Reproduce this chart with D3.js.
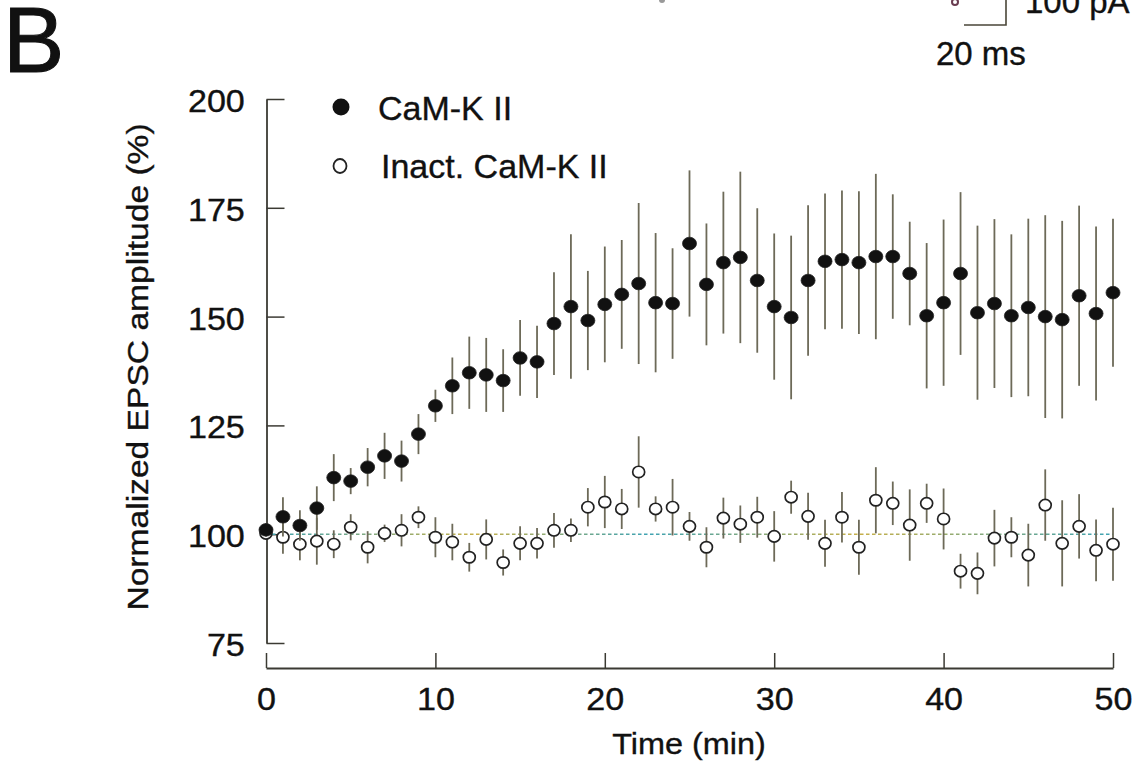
<!DOCTYPE html>
<html>
<head>
<meta charset="utf-8">
<script src="https://cdn.jsdelivr.net/npm/d3@7"></script>
<style>
  html, body { margin: 0; padding: 0; background: #fff; }
  svg { display: block; }
  text { font-family: "Liberation Sans", Arial, Helvetica, sans-serif; fill: #111; stroke: #111; stroke-width: 0.35px; }
</style>
</head>
<body>
<div id="chart"></div>
<script>
// Normalized EPSC amplitude over time, CaM-K II vs inactivated CaM-K II

const times = [0, 1, 2, 3, 4, 5, 6, 7, 8, 9, 10, 11, 12, 13, 14, 15, 16, 17, 18, 19, 20,
  21, 22, 23, 24, 25, 26, 27, 28, 29, 30, 31, 32, 33, 34, 35, 36, 37, 38, 39, 40,
  41, 42, 43, 44, 45, 46, 47, 48, 49, 50];

// CaM-K II (filled)
const camkMean = [101, 104, 102, 106, 113, 112.2, 115.4, 118, 116.8, 123, 129.5,
  134.1, 137.1, 136.6, 135.3, 140.5, 139.6, 148.4, 152.3, 149.1, 152.8,
  155.1, 157.6, 153.2, 153, 166.8, 157.4, 162.4, 163.6, 158.3, 152.3,
  149.8, 158.3, 162.7, 163.1, 162.4, 163.8, 163.8, 159.9, 150.2, 153.2,
  159.9, 150.9, 153, 150.2, 152.1, 150, 149.3, 154.8, 150.7, 155.5];
const camkErr = [1.5, 4.5, 3.5, 5, 5.4, 3, 4.4, 5.3, 4.7, 4.6, 3.7,
  6.5, 8.3, 8.5, 7.2, 8.7, 8.3, 11.8, 16.6, 11.4, 13.3,
  12.5, 18.5, 16, 12.7, 16.8, 14, 16.3, 19.7, 16.6, 16.8,
  18.8, 17.3, 15.6, 15.9, 16.4, 19, 14.3, 11.9, 16.7, 19.1,
  18.7, 20, 19.4, 18.7, 20.4, 23.3, 22.7, 20.7, 20, 17];

// Inact. CaM-K II (open)
const inactMean = [100.2, 99.3, 97.7, 98.4, 97.7, 101.6, 97, 100.2, 100.9, 103.9, 99.3,
  98.2, 94.7, 98.8, 93.5, 97.9, 97.9, 100.9, 100.9, 106.2, 107.4,
  105.8, 114.3, 105.8, 106.2, 101.8, 97, 103.7, 102.3, 103.9, 99.5,
  108.5, 104.1, 97.9, 103.9, 97, 107.8, 107.1, 102.1, 107.1, 103.5,
  91.5, 91, 99.1, 99.3, 95.2, 106.7, 97.9, 101.8, 96.3, 97.7];
const inactErr = [1, 3.8, 3.7, 5.4, 3.2, 3, 3.7, 2, 3.7, 2.5, 4.6,
  4.2, 3.3, 4.6, 3, 3.9, 3.5, 4, 2.7, 4.4, 6,
  4.6, 8.2, 2.9, 6.5, 3.3, 4.6, 4.7, 4.3, 4.7, 5.8,
  3.8, 5.4, 5.4, 5.8, 6.3, 7.6, 5, 8.2, 4.5, 7,
  4, 4.8, 6.5, 4.6, 7.2, 8.2, 9.9, 7.4, 7.1, 8.4];

const xTicks = [0, 10, 20, 30, 40, 50];
const yTicks = [75, 100, 125, 150, 175, 200];
const legendLabels = ["CaM-K II", "Inact. CaM-K II"];

const W = 1137, H = 773;
const TICK_FONT = 31, STRETCH = 1.1;

const svg = d3.select('#chart').append('svg')
  .attr('width', W).attr('height', H)
  .attr('viewBox', [0, 0, W, H]);

const x = d3.scaleLinear().domain([0, 50]).range([266, 1113]);
const y = d3.scaleLinear().domain([75, 200]).range([643, 99]);

// panel letter and leftover scale bar from panel above
svg.append('text').attr('x', 3).attr('y', 72)
  .attr('font-size', 92).style('stroke-width', '1px').text('B');

svg.append('path')
  .attr('d', 'M1006,0 V25 H964')
  .attr('fill', 'none').attr('stroke', '#4a4638').attr('stroke-width', 1.6);
svg.append('text').attr('x', 1025).attr('y', 13).attr('font-size', 33).text('100 pA');
svg.append('text').attr('x', 936).attr('y', 65).attr('font-size', 33).text('20 ms');
svg.append('ellipse').attr('cx', 955).attr('cy', 2).attr('rx', 3).attr('ry', 3)
  .attr('fill', 'none').attr('stroke', '#6a3c50').attr('stroke-width', 2);
svg.append('circle').attr('cx', 662).attr('cy', 0).attr('r', 3).attr('fill', '#999');

// y axis (ticks pointing inward)
const yAxis = svg.append('g')
  .attr('transform', 'translate(266.5,0)')
  .call(d3.axisLeft(y).tickValues(yTicks).tickSize(-18).tickSizeOuter(0).tickPadding(19.7));

// x axis, detached below the plot
const xAxis = svg.append('g')
  .attr('transform', 'translate(0,668)')
  .call(d3.axisBottom(x).tickValues(xTicks).tickSize(-15).tickSizeOuter(0).tickPadding(20));

[yAxis, xAxis].forEach(g => {
  g.attr('font-family', null).attr('font-size', null);
  g.select('.domain').attr('stroke', '#3b3a33').attr('stroke-width', 1.8);
  g.selectAll('.tick line').attr('stroke', '#3b3a33').attr('stroke-width', 1.5);
  g.selectAll('.tick text')
    .attr('font-size', TICK_FONT)
    .attr('fill', '#111')
    .attr('transform', `scale(${STRETCH},1)`);
});
yAxis.selectAll('.tick text').attr('dy', '0.4em');

// axis titles
svg.append('text')
  .attr('transform', 'translate(148,367) rotate(-90) scale(1.12,1)')
  .attr('text-anchor', 'middle').attr('font-size', 30)
  .text('Normalized EPSC amplitude (%)');

svg.append('text')
  .attr('transform', 'translate(689,754) scale(1.08,1)')
  .attr('text-anchor', 'middle').attr('font-size', 30)
  .text('Time (min)');

// dashed baseline at 100 %
const defs = svg.append('defs');
const grad = defs.append('linearGradient').attr('id', 'dashGrad')
  .attr('gradientUnits', 'userSpaceOnUse')
  .attr('x1', x(0)).attr('x2', x(50)).attr('y1', 0).attr('y2', 0);
[[0, '#3fa3b3'], [0.25, '#c7b04a'], [0.45, '#3fa3b3'], [0.7, '#c7b04a'], [1, '#3fa3b3']]
  .forEach(([o, c]) => grad.append('stop').attr('offset', o).attr('stop-color', c));

svg.append('line')
  .attr('x1', x(0)).attr('x2', x(50))
  .attr('y1', y(100)).attr('y2', y(100))
  .attr('stroke', 'url(#dashGrad)').attr('stroke-width', 1.6)
  .attr('stroke-dasharray', '3.5 2.5');

const inactData = times.map((t, i) => ({ t, m: inactMean[i], e: inactErr[i] }));
const camkData = times.map((t, i) => ({ t, m: camkMean[i], e: camkErr[i] }));

function drawSeries(data, filled) {
  const g = svg.append('g');
  g.selectAll('line')
    .data(data)
    .join('line')
    .attr('x1', d => x(d.t)).attr('x2', d => x(d.t))
    .attr('y1', d => y(d.m - d.e)).attr('y2', d => y(d.m + d.e))
    .attr('stroke', '#6d6a58').attr('stroke-width', 1.8);
  g.selectAll('ellipse')
    .data(data)
    .join('ellipse')
    .attr('cx', d => x(d.t)).attr('cy', d => y(d.m))
    .attr('rx', filled ? 7 : 6)
    .attr('ry', filled ? 6.3 : 5.7)
    .attr('fill', filled ? '#111' : '#fff')
    .attr('stroke', '#222')
    .attr('stroke-width', filled ? 0.8 : 1.7);
}

drawSeries(inactData, false);
drawSeries(camkData, true);

// legend
const legend = svg.append('g');
legend.append('circle').attr('cx', 341).attr('cy', 107).attr('r', 8.5).attr('fill', '#111');
legend.append('text').attr('x', 378).attr('y', 120).attr('font-size', 34).text(legendLabels[0]);
legend.append('ellipse').attr('cx', 340).attr('cy', 166).attr('rx', 6.5).attr('ry', 7)
  .attr('fill', '#fff').attr('stroke', '#222').attr('stroke-width', 1.8);
legend.append('text').attr('x', 381).attr('y', 178).attr('font-size', 34).text(legendLabels[1]);
</script>
</body>
</html>
